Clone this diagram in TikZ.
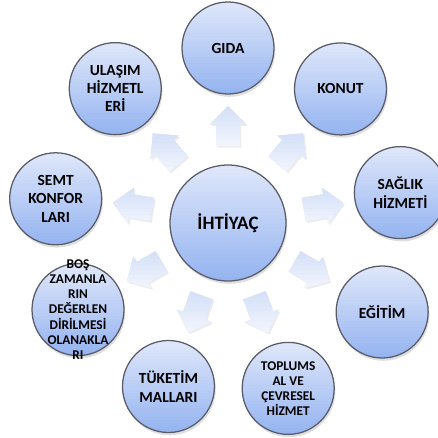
\documentclass[tikz,border=0pt]{standalone}
\usepackage{fontspec}
\setmainfont{Carlito}
\usepackage{tikz}
\usetikzlibrary{shapes.arrows,calc,shadows}
\definecolor{circtop}{RGB}{222,231,250}
\definecolor{circbot}{RGB}{150,180,240}
\definecolor{circline}{RGB}{90,92,104}
\definecolor{arrowback}{RGB}{242,245,253}
\definecolor{arrowtip}{RGB}{212,224,248}
\tikzset{
  vgrad/.style 2 args={path picture={
    \foreach \k in {0,...,29}{
      \pgfmathsetmacro\mix{100*\k/29}
      \pgfmathsetmacro\ta{\k/30}
      \pgfmathsetmacro\tb{(\k+1.3)/30}
      \fill[#2!\mix!#1] ($(path picture bounding box.north west)!\ta!(path picture bounding box.south west)$) -- ($(path picture bounding box.north east)!\ta!(path picture bounding box.south east)$) -- ($(path picture bounding box.north east)!\tb!(path picture bounding box.south east)$) -- ($(path picture bounding box.north west)!\tb!(path picture bounding box.south west)$) -- cycle;
    }}},
  need/.style={circle, fill=circtop, vgrad={circtop}{circbot}, postaction={draw=circline, line width=0.9pt},
    drop shadow={shadow xshift=0.03cm, shadow yshift=-0.07cm, opacity=0.25},
    minimum size=2.3cm, inner sep=0pt, align=center, font=\bfseries\fontsize{11}{13}\selectfont},
  hub/.style={need, minimum size=2.9cm, font=\bfseries\fontsize{13.5}{16}\selectfont},
  smalltext/.style={font=\bfseries\fontsize{9.5}{10.7}\selectfont},
  pointer/.style={single arrow, minimum height=1cm, single arrow head extend=0.16cm,
    inner xsep=0pt, inner ysep=0.29cm, fill=arrowtip, vgrad={arrowtip}{arrowback},
    drop shadow={shadow xshift=0.04cm, shadow yshift=-0.04cm, opacity=0.15}}
}
\begin{document}
\begin{tikzpicture}
\useasboundingbox (-5.7,-5.375) rectangle (5.25,5.575);
\node [hub] (ihtiyac) at (0,0) {İHTİYAÇ};
\node [pointer, rotate=90] (p1) at (90:2.275) {};
\node [pointer, rotate=50] (p2) at (50:2.275) {};
\node [pointer, rotate=10] (p3) at (10:2.275) {};
\node [pointer, rotate=-30] (p4) at (-30:2.275) {};
\node [pointer, rotate=-70] (p5) at (-70:2.275) {};
\node [pointer, rotate=-110] (p6) at (-110:2.275) {};
\node [pointer, rotate=-150] (p7) at (-150:2.275) {};
\node [pointer, rotate=170] (p8) at (170:2.275) {};
\node [pointer, rotate=130] (p9) at (130:2.275) {};
\node [need] (gida) at (90:4.375) {GIDA};
\node [need] (konut) at (50:4.375) {KONUT};
\node [need] (saglik) at (10:4.375) {SAĞLIK\\HİZMETİ};
\node [need] (egitim) at (-30:4.45) {EĞİTİM};
\node [need, smalltext] (toplum) at (-70:4.4) {TOPLUMS\\AL VE\\ÇEVRESEL\\HİZMET};
\node [need] (tuketim) at (-110:4.35) {TÜKETİM\\MALLARI};
\node [need, label={[smalltext, align=center]center:BOŞ\\ZAMANLA\\RIN\\DEĞERLEN\\DİRİLMESİ\\OLANAKLA\\RI}] (bos) at (-150:4.33) {};
\node [need] (semt) at (172:4.35) {SEMT\\KONFOR\\LARI};
\node [need] (ulasim) at (130:4.385) {ULAŞIM\\HİZMETL\\ERİ};
\end{tikzpicture}
\end{document}
